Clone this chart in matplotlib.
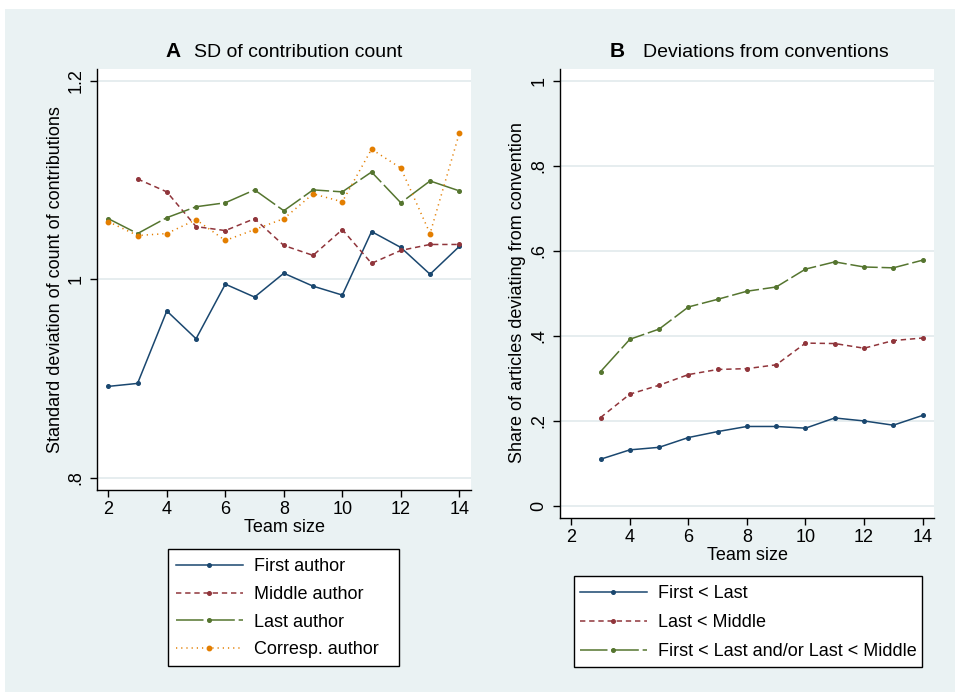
import matplotlib
matplotlib.use("Agg")
import matplotlib.pyplot as plt
from matplotlib.patches import Rectangle

plt.rcParams["font.family"] = ["Liberation Sans", "DejaVu Sans"]

# ---------------- data ----------------
team_a = [2, 3, 4, 5, 6, 7, 8, 9, 10, 11, 12, 13, 14]
first_author = [0.892, 0.895, 0.968, 0.940, 0.995, 0.982, 1.006, 0.993, 0.984, 1.048, 1.032, 1.005, 1.033]
team_mid = [3, 4, 5, 6, 7, 8, 9, 10, 11, 12, 13, 14]
middle_author = [1.101, 1.088, 1.053, 1.049, 1.061, 1.034, 1.024, 1.050, 1.016, 1.029, 1.035, 1.035]
last_author = [1.061, 1.046, 1.062, 1.073, 1.077, 1.090, 1.069, 1.090, 1.088, 1.108, 1.077, 1.099, 1.089]
corresp_author = [1.058, 1.044, 1.046, 1.060, 1.039, 1.050, 1.061, 1.086, 1.078, 1.131, 1.112, 1.046, 1.147]

team_b = [3, 4, 5, 6, 7, 8, 9, 10, 11, 12, 13, 14]
first_lt_last = [0.110, 0.132, 0.138, 0.161, 0.175, 0.187, 0.187, 0.183, 0.207, 0.200, 0.190, 0.213]
last_lt_middle = [0.208, 0.263, 0.284, 0.309, 0.321, 0.323, 0.332, 0.383, 0.382, 0.371, 0.389, 0.395]
either = [0.316, 0.392, 0.416, 0.468, 0.486, 0.505, 0.515, 0.557, 0.574, 0.562, 0.560, 0.578]

xticks = [2, 4, 6, 8, 10, 12, 14]
yticks_a = [0.8, 1.0, 1.2]
yticklabels_a = [".8", "1", "1.2"]
yticks_b = [0, 0.2, 0.4, 0.6, 0.8, 1.0]
yticklabels_b = ["0", ".2", ".4", ".6", ".8", "1"]

# ---------------- style ----------------
W, H = 955, 698
BG = "#EAF2F3"
GRID = "#E2EAEC"
NAVY = "#1A476F"
MAROON = "#90353B"
GREEN = "#55752F"
ORANGE = "#E37E00"
FS = 13

def fx(x):
    return x / W

def fy(y):
    return 1 - y / H

fig = plt.figure(figsize=(W / 100, H / 100), dpi=100, facecolor="white")
fig.add_artist(Rectangle((fx(5), fy(692)), (950) / W, (683) / H,
                         transform=fig.transFigure, facecolor=BG, edgecolor="none", zorder=-10))

def style_axes(ax, yticks, yticklabels):
    ax.set_facecolor("white")
    for s in ["top", "right"]:
        ax.spines[s].set_visible(False)
    for s in ["left", "bottom"]:
        ax.spines[s].set_color("black")
        ax.spines[s].set_linewidth(1.0)
    ax.set_xticks(xticks)
    ax.set_xticklabels([str(t) for t in xticks], fontsize=FS)
    ax.set_yticks(yticks)
    ax.set_yticklabels(yticklabels, fontsize=FS, rotation=90, va="center")
    ax.tick_params(axis="both", direction="out", length=5, width=1, color="black")
    ax.tick_params(axis="x", pad=3)
    ax.tick_params(axis="y", pad=4)
    ax.yaxis.grid(True, color=GRID, linewidth=1.2)
    ax.set_axisbelow(True)

LW = 1.1
ls_solid = "-"
ls_dash = (0, (3.5, 2.5))
ls_long = (0, (18, 2.5))
ls_dot = (0, (0.8, 2.6))

# ---------------- panel A ----------------
axA = fig.add_axes([fx(96.7), fy(490), (471 - 96.7) / W, (490 - 69) / H])
style_axes(axA, yticks_a, yticklabels_a)
axA.set_xlim(1.603, 14.4)
axA.set_ylim(0.7876, 1.2118)
hA = []
hA += axA.plot(team_a, first_author, color=NAVY, lw=LW, ls=ls_solid, marker="o", ms=2.6, label="First author")
hA += axA.plot(team_mid, middle_author, color=MAROON, lw=LW, ls=ls_dash, marker="o", ms=2.6, label="Middle author")
hA += axA.plot(team_a, last_author, color=GREEN, lw=LW, ls=ls_long, marker="o", ms=2.6, label="Last author")
hA += axA.plot(team_a, corresp_author, color=ORANGE, lw=LW, ls=ls_dot, marker="o", ms=3.2, label="Corresp. author")

# ---------------- panel B ----------------
axB = fig.add_axes([fx(560), fy(517.7), (934.3 - 560) / W, (517.7 - 69) / H])
style_axes(axB, yticks_b, yticklabels_b)
axB.set_xlim(1.614, 14.4)
axB.set_ylim(-0.0275, 1.0275)
hB = []
hB += axB.plot(team_b, first_lt_last, color=NAVY, lw=LW, ls=ls_solid, marker="o", ms=2.6, label="First < Last")
hB += axB.plot(team_b, last_lt_middle, color=MAROON, lw=LW, ls=ls_dash, marker="o", ms=2.6, label="Last < Middle")
hB += axB.plot(team_b, either, color=GREEN, lw=LW, ls=ls_long, marker="o", ms=2.6,
               label="First < Last and/or Last < Middle")

# ---------------- titles and labels ----------------
TFS = 14
fig.text(fx(165), fy(57), "A", fontsize=TFS + 1, fontweight="bold", ha="left", va="baseline")
fig.text(fx(194), fy(57), "SD of contribution count", fontsize=TFS, ha="left", va="baseline")
fig.text(fx(610), fy(57), "B", fontsize=TFS + 1, fontweight="bold", ha="left", va="baseline")
fig.text(fx(643), fy(57), "Deviations from conventions", fontsize=TFS, ha="left", va="baseline")

fig.text(fx(55), fy(280), "Standard deviation of count of contributions", fontsize=FS,
         rotation=90, ha="center", va="center")
fig.text(fx(518), fy(293), "Share of articles deviating from convention", fontsize=FS,
         rotation=90, ha="center", va="center")
fig.text(fx(284), fy(527), "Team size", fontsize=FS, ha="center", va="center")
fig.text(fx(747), fy(556), "Team size", fontsize=FS, ha="center", va="center")

# ---------------- legends ----------------
fig.add_artist(Rectangle((fx(168.3), fy(665.7)), (399.3 - 168.3) / W, (665.7 - 549) / H,
                         transform=fig.transFigure, facecolor="white", edgecolor="black", lw=1.0, zorder=1))
fig.add_artist(Rectangle((fx(574), fy(666.7)), (922 - 574) / W, (666.7 - 576) / H,
                         transform=fig.transFigure, facecolor="white", edgecolor="black", lw=1.0, zorder=1))

legA = fig.legend(handles=hA, loc="upper left", bbox_to_anchor=(fx(176), fy(558)),
                  frameon=False, fontsize=FS, handlelength=3.7, handletextpad=0.6,
                  labelspacing=0.6, borderpad=0, borderaxespad=0, numpoints=1)
legA.set_zorder(2)
legB = fig.legend(handles=hB, loc="upper left", bbox_to_anchor=(fx(580), fy(585)),
                  frameon=False, fontsize=FS, handlelength=3.7, handletextpad=0.6,
                  labelspacing=0.66, borderpad=0, borderaxespad=0, numpoints=1)
legB.set_zorder(2)

fig.savefig("out.png", dpi=100, facecolor="white")
